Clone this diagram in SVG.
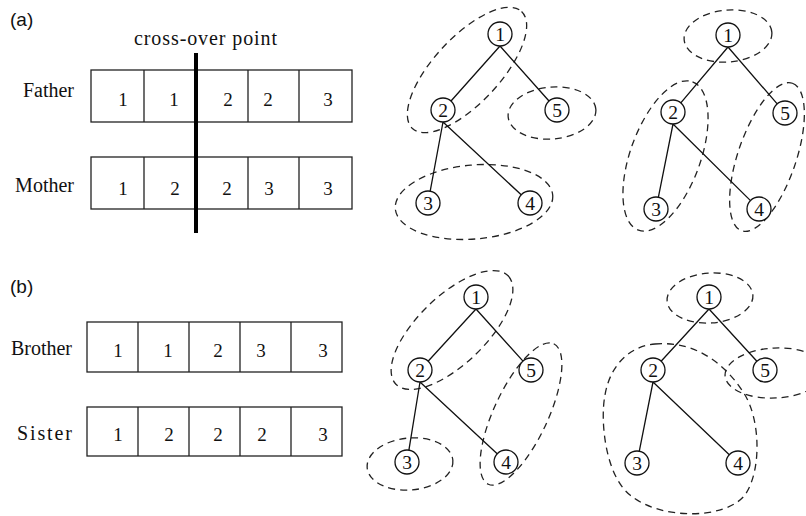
<svg xmlns="http://www.w3.org/2000/svg" width="806" height="516" viewBox="0 0 806 516">
<style>
.bg{fill:#fff}
.lbl{font-family:"Liberation Serif","Times New Roman",serif;font-size:20px;fill:#111}
.num{font-family:"Liberation Serif","Times New Roman",serif;font-size:19px;fill:#111;text-anchor:middle}
.tag{font-family:"Liberation Sans",Arial,sans-serif;font-size:19px;fill:#111}
.box{fill:none;stroke:#222;stroke-width:1.3}
.edge{stroke:#111;stroke-width:1.3;fill:none}
.nd circle{fill:#fff;stroke:#111;stroke-width:1.3}
.nd text{font-family:"Liberation Serif","Times New Roman",serif;font-size:19.5px;fill:#111;text-anchor:middle}
.grp{fill:none;stroke:#222;stroke-width:1.3;stroke-dasharray:7 5}
</style>
<rect class="bg" x="0" y="0" width="806" height="516"/>

<text class="tag" x="10" y="26">(a)</text>
<text class="tag" x="10" y="293">(b)</text>

<g id="crossover-label"><text class="lbl" x="134" y="45" textLength="143" lengthAdjust="spacing">cross-over point</text></g>

<g id="father">
<text class="lbl" x="74" y="97" text-anchor="end">Father</text>
<rect class="box" x="91" y="70" width="261" height="52"/>
<path class="box" d="M144 70V122M196 70V122M248 70V122M299 70V122"/>
<text class="num" x="123" y="106">1</text><text class="num" x="174" y="106">1</text><text class="num" x="228" y="106">2</text><text class="num" x="268" y="106">2</text><text class="num" x="328" y="106">3</text>
</g>
<g id="mother">
<text class="lbl" x="74" y="192" text-anchor="end">Mother</text>
<rect class="box" x="91" y="157" width="261" height="52"/>
<path class="box" d="M144 157V209M196 157V209M248 157V209M299 157V209"/>
<text class="num" x="123" y="195">1</text><text class="num" x="175" y="195">2</text><text class="num" x="227" y="195">2</text><text class="num" x="269" y="195">3</text><text class="num" x="328" y="195">3</text>
</g>
<g id="crossover-line"><line x1="196" y1="53" x2="196" y2="233" stroke="#000" stroke-width="4"/></g>

<g id="brother">
<text class="lbl" x="72" y="355" text-anchor="end">Brother</text>
<rect class="box" x="87" y="322" width="255" height="50"/>
<path class="box" d="M138 322V372M189 322V372M240 322V372M291 322V372"/>
<text class="num" x="118" y="357">1</text><text class="num" x="168" y="357">1</text><text class="num" x="218" y="357">2</text><text class="num" x="261" y="357">3</text><text class="num" x="323" y="357">3</text>
</g>
<g id="sister">
<text class="lbl" x="17" y="440" textLength="55" lengthAdjust="spacing">Sister</text>
<rect class="box" x="87" y="407" width="255" height="49"/>
<path class="box" d="M138 407V456M189 407V456M240 407V456M291 407V456"/>
<text class="num" x="118" y="441">1</text><text class="num" x="169" y="441">2</text><text class="num" x="218" y="441">2</text><text class="num" x="262" y="441">2</text><text class="num" x="323" y="441">3</text>
</g>

<g id="groupings">
<ellipse class="grp" cx="467" cy="70" rx="80" ry="33" transform="rotate(-47 467 70)"/>
<ellipse class="grp" cx="552" cy="113" rx="44" ry="26" transform="rotate(-5 552 113)"/>
<ellipse class="grp" cx="474" cy="202" rx="79" ry="37" transform="rotate(-5 474 202)"/>

<ellipse class="grp" cx="728" cy="36" rx="44" ry="26" transform="rotate(-5 728 36)"/>
<ellipse class="grp" cx="665.5" cy="156" rx="79" ry="35" transform="rotate(-70 665.5 156)"/>
<ellipse class="grp" cx="767" cy="157" rx="78" ry="29" transform="rotate(-71 767 157)"/>

<ellipse class="grp" cx="452" cy="330" rx="78" ry="34" transform="rotate(-44 452 330)"/>
<ellipse class="grp" cx="521" cy="414" rx="77.5" ry="27" transform="rotate(-65 521 414)"/>
<ellipse class="grp" cx="410" cy="464" rx="43" ry="26" transform="rotate(-5 410 464)"/>

<ellipse class="grp" cx="710" cy="298" rx="43" ry="25" transform="rotate(-4 710 298)"/>
<ellipse class="grp" cx="775" cy="373" rx="50" ry="25" transform="rotate(-3 775 373)"/>
<path class="grp" d="M655 344C700 340 730 370 745 395C760 420 762 470 745 495C725 520 660 520 630 495C605 475 600 420 605 395C610 365 630 346 655 344Z"/>
</g>

<g id="connectors">
<path class="edge" d="M500 46L451 101M500 46L549 101M443 122L430.2 191.2M443 122L521.2 194.8"/>
<path class="edge" d="M728 47L680.8 102.8M728 47L777.2 103.9M673 124L658.4 197.2M673 124L750.5 200.6"/>
<path class="edge" d="M476 309L428.1 361.2M476 309L523 361.1M420 382L408.9 450.2M420 382L497.2 453.8"/>
<path class="edge" d="M709 309L661.1 361.2M709 309L756.9 361.2M653 382L639.3 451.2M653 382L729.3 454.7"/>
</g>

<g id="ta-n1" class="nd"><circle cx="500" cy="34" r="12"/><text x="500" y="41">1</text></g>
<g id="ta-n2" class="nd"><circle cx="443" cy="110" r="12"/><text x="443" y="117">2</text></g>
<g id="ta-n5" class="nd"><circle cx="557" cy="110" r="12"/><text x="557" y="117">5</text></g>
<g id="ta-n3" class="nd"><circle cx="428" cy="203" r="12"/><text x="428" y="210">3</text></g>
<g id="ta-n4" class="nd"><circle cx="530" cy="203" r="12"/><text x="530" y="210">4</text></g>

<g id="tb-n1" class="nd"><circle cx="728" cy="35" r="12"/><text x="728" y="42">1</text></g>
<g id="tb-n2" class="nd"><circle cx="673" cy="112" r="12"/><text x="673" y="119">2</text></g>
<g id="tb-n5" class="nd"><circle cx="785" cy="113" r="12"/><text x="785" y="120">5</text></g>
<g id="tb-n3" class="nd"><circle cx="656" cy="209" r="12"/><text x="656" y="216">3</text></g>
<g id="tb-n4" class="nd"><circle cx="759" cy="209" r="12"/><text x="759" y="216">4</text></g>

<g id="tc-n1" class="nd"><circle cx="476" cy="297" r="12"/><text x="476" y="304">1</text></g>
<g id="tc-n2" class="nd"><circle cx="420" cy="370" r="12"/><text x="420" y="377">2</text></g>
<g id="tc-n5" class="nd"><circle cx="531" cy="370" r="12"/><text x="531" y="377">5</text></g>
<g id="tc-n3" class="nd"><circle cx="407" cy="462" r="12"/><text x="407" y="469">3</text></g>
<g id="tc-n4" class="nd"><circle cx="506" cy="462" r="12"/><text x="506" y="469">4</text></g>

<g id="td-n1" class="nd"><circle cx="709" cy="297" r="12"/><text x="709" y="304">1</text></g>
<g id="td-n2" class="nd"><circle cx="653" cy="370" r="12"/><text x="653" y="377">2</text></g>
<g id="td-n5" class="nd"><circle cx="765" cy="370" r="12"/><text x="765" y="377">5</text></g>
<g id="td-n3" class="nd"><circle cx="637" cy="463" r="12"/><text x="637" y="470">3</text></g>
<g id="td-n4" class="nd"><circle cx="738" cy="463" r="12"/><text x="738" y="470">4</text></g>
</svg>
